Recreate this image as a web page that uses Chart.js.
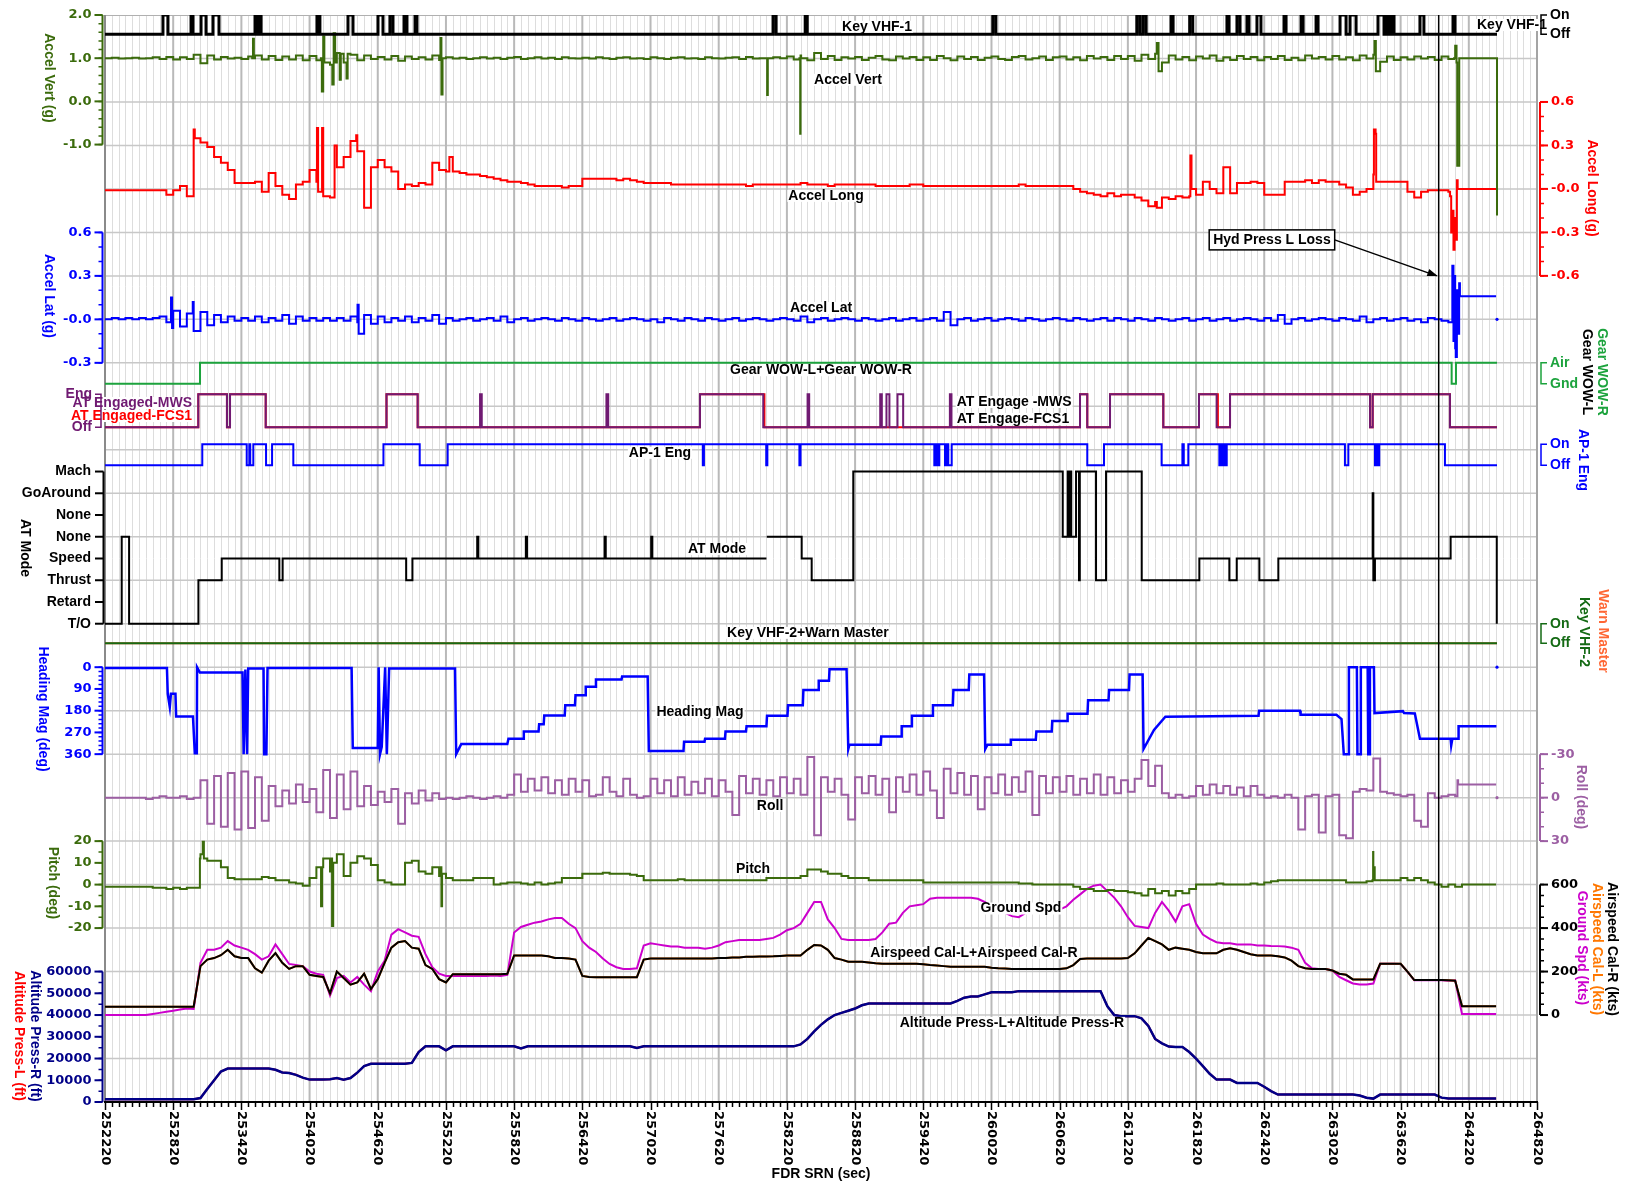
<!DOCTYPE html>
<html>
<head>
<meta charset="utf-8">
<script src="https://cdn.jsdelivr.net/npm/chart.js@4.4.1/dist/chart.umd.min.js"></script>
<style>
  html, body { margin: 0; padding: 0; background: #ffffff; }
  canvas { display: block; }
</style>
</head>
<body>
<canvas id="fdr" width="1625" height="1186"></canvas>
<script>
// ---------------------------------------------------------------------------
// Flight data recorder traces, FDR SRN (sec) on the horizontal axis.
// Continuous parameters are stored as samples every DT seconds from T0,
// with extra [time, value] points for short transients. Discrete parameters
// are stored as [time, state] change points.
// ---------------------------------------------------------------------------
const X_MIN = 252220;
const X_MAX = 264820;
const T0 = 252220;
const DT = 60;
const EVENT_T = 263955;

const xTickLabels = ['252220','252820','253420','254020','254620','255220','255820','256420',
  '257020','257620','258220','258820','259420','260020','260620','261220','261820','262420',
  '263020','263620','264220','264820'];

// Key VHF-1 (1 = On, 0 = Off)
const keyVhf1 = [[252220,0],[252730,1],[252774,0],[252977,1],[252994,0],[253065,1],[253109,0],
  [253170,1],[253223,0],[253540,1],[253557,0],[253575,1],[253593,0],[254085,1],[254111,0],
  [254358,1],[254402,0],[254622,1],[254666,0],[254727,1],[254754,0],[254851,1],[254877,0],
  [254948,1],[254965,0],[258098,1],[258125,0],[258381,1],[258399,0],[260032,1],[260059,0],
  [261299,1],[261326,0],[261354,1],[261381,0],[261600,1],[261618,0],[261764,1],[261791,0],
  [262092,1],[262110,0],[262180,1],[262207,0],[262268,1],[262286,0],[262356,1],[262391,0],
  [262594,1],[262612,0],[262744,1],[262762,0],[262876,1],[262893,0],[263087,1],[263140,0],
  [263175,1],[263228,0],[263421,1],[263474,0],[263500,1],[263518,0],[263544,1],[263562,0],
  [263790,1],[263825,0],[264081,1],[264099,0],[264468,0]];

// Accel Vert (g)
const accelVert = [
  1.00,1.01,0.99,1.00,1.01,0.99,1.00,1.02,0.98,1.03,
  0.97,1.02,0.98,1.08,0.88,1.06,0.97,1.03,0.99,1.01,
  0.98,1.04,1.06,0.97,1.05,0.96,1.04,0.97,1.06,0.95,
  1.05,0.95,1.10,0.85,1.12,0.90,1.08,0.95,1.06,0.98,
  1.03,0.97,1.05,0.94,1.04,0.98,1.02,0.97,1.06,0.96,
  1.02,0.99,1.01,0.98,1.00,1.02,0.99,1.01,0.98,1.01,
  1.03,0.98,1.00,1.02,0.99,1.01,0.98,1.02,1.00,0.99,
  1.01,0.99,1.02,1.00,0.98,1.01,1.02,0.99,1.00,0.98,
  1.02,1.00,0.98,1.01,1.02,0.99,1.00,0.98,1.02,1.00,
  0.99,1.01,1.02,0.98,1.03,0.99,1.00,0.98,1.02,1.00,
  1.04,0.97,1.06,0.95,1.12,0.98,1.05,0.96,1.02,0.99,
  1.03,0.96,1.01,1.05,0.97,0.95,1.04,0.99,1.03,0.96,
  1.02,0.96,1.05,1.00,0.95,1.04,0.98,1.03,0.96,1.01,
  1.04,0.98,0.96,1.03,1.05,0.97,1.00,1.04,0.96,1.02,
  1.04,0.97,1.02,0.95,1.05,0.99,1.03,0.96,1.05,0.98,
  1.05,0.94,1.08,0.98,1.10,0.90,1.06,0.97,1.03,0.95,
  1.04,0.99,1.06,0.94,1.02,0.96,1.05,0.98,1.03,0.95,
  1.03,0.98,1.05,0.96,1.01,0.95,1.06,0.99,1.03,0.97,
  1.05,0.97,1.02,0.95,1.06,0.99,1.08,0.92,1.04,0.96,
  1.02,0.97,1.04,0.99,1.03,0.96,1.04,0.98,1.02,1.00,
  1.00,1.00,1.00,1.00,1.00];
const accelVertPeaks = [[253515,1.00],[253522,1.45],[253530,1.00],
  [254120,1.00],[254128,0.23],[254140,1.50],[254150,0.90],[254220,0.39],[254232,1.58],
  [254245,0.90],[254285,0.50],[254295,1.10],[254345,0.53],[254355,1.10],
  [255165,1.00],[255172,1.47],[255180,0.16],[255190,1.00],
  [258040,1.00],[258046,0.15],[258052,1.00],[258330,1.00],[258337,-0.75],[258345,1.00],
  [261475,1.35],[261490,0.70],[263390,1.40],[263402,0.70],
  [264090,1.00],[264100,1.29],[264112,0.90],[264118,-1.49],[264130,-1.49],[264136,1.00],
  [264462,1.00],[264468,-2.64]];

// Accel Long (g)
const accelLong = [
  -0.01,-0.01,-0.01,-0.01,-0.01,-0.01,-0.01,-0.01,-0.01,-0.04,
  -0.01,0.02,-0.05,-0.03,0.32,0.29,0.22,0.18,0.13,0.04,
  0.04,0.04,0.05,-0.02,0.11,0.02,-0.04,-0.07,0.03,0.05,
  0.13,0.05,0.30,-0.06,0.15,0.22,0.33,0.26,-0.10,0.15,
  0.20,0.15,0.12,0.00,0.03,0.02,0.04,0.03,0.18,0.13,
  0.12,0.12,0.11,0.10,0.10,0.09,0.08,0.07,0.06,0.05,
  0.05,0.04,0.03,0.02,0.02,0.02,0.02,0.01,0.02,0.02,
  0.07,0.07,0.07,0.07,0.07,0.06,0.07,0.06,0.05,0.04,
  0.04,0.04,0.04,0.03,0.03,0.03,0.03,0.03,0.03,0.03,
  0.03,0.03,0.03,0.03,0.02,0.03,0.03,0.03,0.03,0.03,
  0.03,0.03,0.04,0.03,0.03,0.03,0.02,0.03,0.03,0.03,
  0.03,0.03,0.03,0.02,0.02,0.02,0.02,0.02,0.03,0.03,
  0.02,0.02,0.02,0.02,0.02,0.02,0.02,0.02,0.02,0.02,
  0.02,0.02,0.02,0.02,0.03,0.02,0.02,0.02,0.02,0.02,
  0.02,0.02,0.00,-0.02,-0.03,-0.04,-0.05,-0.03,-0.05,-0.04,
  -0.04,-0.06,-0.08,-0.12,-0.09,-0.06,-0.07,-0.05,-0.06,-0.05,
  -0.04,0.05,0.00,-0.03,0.15,-0.03,0.04,0.04,0.05,0.04,
  -0.04,-0.04,-0.04,0.05,0.05,0.05,0.06,0.04,0.06,0.05,
  0.05,0.03,0.01,-0.04,-0.02,0.00,0.05,0.05,0.05,0.05,
  0.05,-0.02,-0.06,-0.02,-0.01,-0.01,-0.01,-0.02,-0.20,0.00,
  0.00,0.00,0.00,0.00,0.00];
const accelLongPeaks = [[252996,-0.05],[253000,0.41],[253010,0.35],
  [254085,0.42],[254095,-0.02],[254130,0.42],[254140,-0.05],[254240,0.30],[254430,0.37],
  [254500,-0.13],[255250,0.22],[261475,-0.13],[261770,0.23],[261780,0.00],
  [263380,0.10],[263385,0.41],[263400,0.38],[263405,0.05],
  [264055,-0.05],[264065,-0.30],[264075,-0.15],[264085,-0.42],[264095,-0.25],
  [264105,-0.35],[264115,0.06],[264122,0.00]];

// Accel Lat (g)
const accelLat = [
  0.00,0.01,0.00,0.01,0.00,0.01,0.00,0.01,0.02,-0.02,
  0.06,-0.05,0.04,-0.04,0.05,-0.04,0.03,-0.02,0.02,-0.01,
  0.01,-0.01,0.02,-0.02,0.01,-0.01,0.03,-0.03,0.02,-0.01,
  0.01,-0.01,0.01,-0.01,0.01,-0.01,0.02,-0.02,0.03,-0.03,
  0.02,-0.02,0.01,-0.01,0.02,-0.02,0.01,-0.01,0.03,-0.03,
  0.01,-0.01,0.00,0.01,-0.01,0.00,0.01,-0.01,0.02,-0.02,
  0.00,0.01,-0.01,0.00,0.01,0.00,-0.01,0.01,0.00,-0.01,
  0.01,0.00,-0.01,0.00,0.01,-0.01,0.00,0.01,0.00,-0.01,
  0.00,-0.02,0.01,0.00,-0.01,0.01,0.00,-0.01,0.01,0.00,
  -0.01,0.00,0.01,-0.01,0.00,0.01,0.00,-0.01,0.00,0.01,
  0.00,-0.01,0.02,-0.02,0.00,0.01,-0.01,0.00,0.01,0.00,
  -0.01,0.01,0.00,-0.01,0.00,0.01,-0.01,0.00,0.01,-0.01,
  0.00,0.01,-0.01,0.05,-0.04,0.00,0.01,-0.01,0.00,0.01,
  -0.01,0.00,0.01,0.00,-0.01,0.01,0.00,-0.01,0.00,0.01,
  0.00,-0.01,0.01,0.00,-0.01,0.00,0.01,-0.01,0.01,0.00,
  -0.01,0.01,0.00,-0.01,0.01,0.00,-0.01,0.00,0.01,-0.01,
  0.00,0.01,-0.01,0.00,0.01,-0.01,0.00,0.01,0.00,-0.01,
  0.01,-0.01,0.03,-0.03,0.00,0.01,-0.01,0.00,0.01,0.00,
  -0.01,0.01,0.00,-0.01,0.02,-0.02,0.00,0.01,-0.01,0.00,
  0.01,-0.01,0.00,-0.02,0.01,0.00,-0.01,-0.02,-0.20,0.16,
  0.16,0.16,0.16,0.16,0.16];
const accelLatPeaks = [[252801,0.15],[252810,-0.06],[252992,0.12],[253000,-0.08],
  [254442,0.10],[254452,-0.10],[264060,-0.02],[264075,0.37],[264085,-0.15],[264095,0.30],
  [264105,-0.26],[264115,0.20],[264125,-0.10],[264135,0.25],[264142,0.16]];
const accelLatLast = [[264468,0.00]];

// Gear WOW-L / WOW-R (1 = Air, 0 = Gnd)
const gearWow = [[252220,0],[253056,1],[264069,0],[264107,1],[264468,1]];

// AT Engaged (1 = Eng, 0 = Off)
const atEngagedMws = [[252220,0],[253041,1],[253293,0],[253320,1],[253634,0],[254697,1],
  [254971,0],[255520,1],[255535,0],[256632,1],[256648,0],[257455,1],[258012,0],[258402,1],
  [258416,0],[259041,1],[259055,0],[259096,1],[259122,0],[259193,1],[259243,0],[259654,1],
  [259668,0],[260799,1],[260863,0],[261063,1],[261532,0],[261846,1],[262001,0],[262119,1],
  [263351,0],[263374,1],[264054,0],[264468,0]];
const atEngagedFcs1 = [[252220,0],[253041,1],[253293,0],[253320,1],[253634,0],[254697,1],
  [254971,0],[257455,1],[258022,0],[260799,1],[260863,0],[261063,1],[261532,0],[261846,1],
  [262012,0],[262119,1],[263351,0],[263374,1],[264054,0],[264468,0]];

// AP-1 Eng (1 = On, 0 = Off)
const ap1Eng = [[252220,0],[253076,1],[253467,0],[253490,1],[253498,0],[253525,1],[253637,0],
  [253690,1],[253877,0],[254670,1],[254989,0],[255235,1],[257480,0],[257490,1],[258038,0],
  [258048,1],[258330,0],[258340,1],[259517,0],[259530,1],[259545,0],[259561,1],[259611,0],
  [259625,1],[259640,0],[259670,1],[260863,0],[261010,1],[261517,0],[261700,1],[261712,0],
  [261752,1],[262025,0],[262040,1],[262050,0],[262065,1],[262075,0],[262090,1],[263130,0],
  [263160,1],[263394,0],[263405,1],[263420,0],[263432,1],[264010,0],[264468,0]];

// AT Mode (state index into atModeNames)
const atModeNames = ['T/O','Retard','Thrust','Speed','None','None','GoAround','Mach'];
const atMode = [[252220,0],[252367,4],[252432,0],[253042,2],[253247,3],[253754,2],[253783,3],
  [254870,2],[254925,3],[255495,4],[255505,3],[255923,4],[255933,3],[256616,4],[256626,3],
  [257026,4],[257036,3],[258040,3],[258041,null],[258043,4],[258350,3],[258438,2],[258804,7],
  [260647,4],[260691,7],[260700,4],[260712,7],[260722,4],[260764,7],[260790,2],[260797,7],
  [260940,2],[261028,7],[261342,2],[261849,3],[262113,2],[262178,3],[262377,2],[262544,3],
  [263374,6],[263380,2],[263394,3],[264060,4],[264466,0]];

// Key VHF-2 and Warn Master (1 = On, 0 = Off)
const keyVhf2 = [[252220,0],[264468,0]];
const warnMaster = [[252220,0],[264468,0]];

// Heading Mag (deg)
const headingMag = [[252220,3],[252765,3],[252772,110],[252790,165],[252800,110],[252840,110],
  [252846,204],[252994,204],[253010,356],[253028,356],[253030,0],[253055,22],[253430,22],
  [253440,360],[253455,10],[253470,360],[253480,5],[253615,5],[253620,360],[253640,360],
  [253650,3],[254390,3],[254400,335],[254620,335],[254628,0],[254640,360],[254655,330],
  [254685,0],[254700,360],[254720,5],[255300,5],[255310,360],[255355,318],[255760,318],
  [255770,296],[255900,296],[255905,266],[256035,266],[256040,236],[256080,236],[256085,200],
  [256265,200],[256270,158],[256355,158],[256360,116],[256445,116],[256450,81],[256535,81],
  [256540,51],[256765,51],[256770,39],[256995,39],[257005,347],[257310,347],[257315,309],
  [257495,309],[257500,296],[257675,296],[257680,266],[257860,266],[257865,244],[258040,244],
  [258045,201],[258225,201],[258230,158],[258360,158],[258365,94],[258495,94],[258500,56],
  [258590,56],[258595,9],[258745,9],[258760,339],[258770,321],[259045,321],[259050,287],
  [259225,287],[259230,244],[259315,244],[259320,201],[259500,201],[259505,158],[259680,158],
  [259685,94],[259820,94],[259825,30],[259955,30],[259965,339],[259985,321],[260185,321],
  [260190,300],[260410,300],[260415,266],[260550,266],[260555,223],[260685,223],[260690,193],
  [260865,193],[260870,137],[261050,137],[261055,94],[261230,94],[261235,30],[261350,30],
  [261358,339],[261450,260],[261550,205],[262370,201],[262375,180],[262735,180],[262740,197],
  [263055,197],[263100,215],[263120,360],[263160,360],[263165,0],[263235,0],[263240,360],
  [263265,360],[263270,0],[263330,0],[263335,360],[263345,360],[263350,0],[263385,0],
  [263390,190],[263640,182],[263650,190],[263745,192],[263790,296],[264060,296],[264065,324],
  [264075,296],[264125,296],[264130,244],[264463,244]];
const headingLast = [[264468,0]];

// Roll (deg)
const roll = [
  0,0,0,0,0,0,1,0,-1,0,
  0,-1,1,0,-12,18,-15,20,-17,22,
  -18,21,-14,16,-8,6,-5,4,-9,3,
  -6,10,-19,14,-16,8,-18,6,-8,5,
  -4,3,-6,18,-3,4,-5,2,-3,1,
  0,1,0,-1,0,1,0,-1,0,-2,
  -16,-4,-13,-5,-14,-3,-12,-2,-13,-4,
  -12,-1,-2,-14,-4,-1,-13,-2,0,-1,
  -13,-3,-12,-1,-14,-2,-11,-3,-13,-1,
  -12,-4,12,-15,-3,-13,-2,-12,-1,-14,
  -3,-13,-2,-28,26,-14,-4,-13,-2,15,
  -14,-3,-15,-2,-13,10,-14,-4,-16,-2,
  -18,-5,14,-20,-3,-17,-2,-15,8,-14,
  -3,-16,-2,-14,-4,-18,12,-15,-3,-14,
  -4,-15,-2,-13,-3,-16,-2,-14,-3,-12,
  -4,-13,-26,-8,-22,-3,0,-2,0,-1,
  -8,-2,-9,-3,-8,-2,-7,-1,-8,-2,
  0,-1,0,-2,0,22,-1,-2,24,-1,
  -2,26,28,-4,-6,-5,-27,-4,-3,-2,
  -1,-2,16,20,-3,0,-1,-2,-1,-9,
  -9,-9,-9,-9,-9];
const rollPeaks = [[264120,-12],[264126,-9]];
const rollLast = [[264468,0]];

// Pitch (deg)
const pitch = [
  -1,-1,-1,-1,-1,-1,-1,-1.5,-1.5,-2,
  -1.5,-2,-1.5,-1.5,14,11,11,8,3,2.5,
  2.5,2.5,2.5,3.5,3,2,2,1,0.5,-0.5,
  3,8,12,6,14,4,10,13,12,9,
  2,1,0,0,10,11,6,5,8,4,
  3,2,2,2,3,3,3,0,0.5,1,
  1,0.5,0,1,0,0.5,1,3,3,3,
  5,5,5,5.5,5,5,5,4.5,4,2,
  2,2,2,2,2.5,2,2,2,2,2,
  2,2,2,2,2,2,2,3,3,3,
  3,3,4,7,7,6,5,5,4,3,
  3,3,2,2,2,2,2,2,2,2,
  1,1,1,1,1,1,1,1,1,1,
  1,1,1,1,0.5,0.5,0,0,0,0,
  0,0,-1,-2,-2,-3,-3,-2.5,-3,-3,
  -3.5,-4,-5,-2,-4,-3,-5,-3,-4,-2,
  0,0,0,0.5,0,0,0,0,0.5,0,
  1,1.5,2,2,2,2,2,2,2,2,
  2,2,1,1,1,1.5,3,2,2,2,
  3,2,3,2,1,0,-1,0,-1,0,
  0,0,0,0,0];
const pitchPeaks = [[253045,-1.5],[253055,12],[253080,19.7],[253090,12],
  [254121,-10],[254130,8],[254210,12],[254218,-19],[254228,10],
  [255175,8],[255180,-10],[255186,5],[263372,2],[263378,15],[263385,8],[263392,2]];

// Ground Spd (kts)
const groundSpd = [
  0,0,0,0,0,0,0,5,10,15,
  20,25,30,28,240,300,300,310,340,320,
  310,300,280,255,270,325,280,235,230,225,
  200,190,185,90,170,180,150,175,140,110,
  200,250,370,395,380,365,360,280,220,190,
  180,180,180,180,180,180,180,182,180,185,
  380,405,415,425,430,440,446,446,420,400,
  340,310,290,260,235,220,212,212,215,320,
  330,325,320,315,315,310,310,310,305,310,
  320,335,340,345,345,345,345,350,355,370,
  390,400,420,470,520,520,440,400,350,345,
  345,345,345,350,380,420,425,470,500,505,
  510,535,540,540,540,540,540,540,535,520,
  500,490,470,455,450,470,475,475,475,480,
  485,500,530,555,580,595,600,570,540,500,
  450,410,405,400,470,520,480,430,500,510,
  420,370,350,335,330,330,325,325,325,320,
  320,318,317,315,310,300,240,215,212,212,
  205,175,160,145,140,140,145,236,236,236,
  235,200,160,160,160,160,160,158,160,5,
  5,5,5,5,5];

// Airspeed Cal-R (kts); Cal-L reads the same
const airspeedCalR = [
  38,38,38,38,38,38,38,38,38,38,
  38,38,38,38,225,255,262,275,300,270,
  262,262,215,195,250,285,240,212,225,225,
  185,180,175,100,200,170,140,150,190,120,
  165,240,310,335,340,310,305,230,212,165,
  150,188,188,188,188,188,188,188,188,190,
  274,274,274,274,274,270,262,262,260,255,
  180,175,174,174,174,174,174,174,174,255,
  260,260,260,260,260,260,260,260,260,260,
  262,262,265,265,268,268,269,269,270,272,
  274,274,274,300,322,320,300,262,255,245,
  245,245,242,238,236,236,236,236,236,236,
  234,230,228,225,222,222,222,222,222,222,
  218,215,214,212,212,212,212,212,212,212,
  212,215,230,258,260,260,260,260,260,260,
  262,284,320,355,340,325,300,310,305,300,
  290,284,284,284,300,307,300,290,280,274,
  274,274,270,265,250,225,215,212,212,212,
  205,190,185,164,164,164,164,236,236,236,
  236,200,161,161,161,161,161,160,158,41,
  41,41,41,41,41];
const airspeedCalL = airspeedCalR;

// Altitude Press-R (ft); Press-L reads the same
const altitudePressR = [
  1300,1300,1300,1300,1300,1300,1300,1300,1300,1300,
  1300,1300,1300,1300,1800,6000,10000,14000,15400,15400,
  15400,15400,15400,15400,15400,14800,13600,13300,12500,11200,
  10300,10300,10300,10500,11000,10200,11000,13500,16500,17600,
  17600,17600,17600,17600,17600,18000,23000,25600,25600,25600,
  23800,25600,25600,25600,25600,25600,25600,25600,25600,25600,
  25600,24600,25600,25600,25600,25600,25600,25600,25600,25600,
  25600,25600,25600,25600,25600,25600,25600,25600,24800,25600,
  25600,25600,25600,25600,25600,25600,25600,25600,25600,25600,
  25600,25600,25600,25600,25600,25600,25600,25600,25600,25600,
  25600,25600,26500,29000,32500,35500,38000,40000,41000,42000,
  43000,44500,45300,45300,45300,45300,45300,45300,45300,45300,
  45300,45300,45300,45300,45300,46500,48000,48500,48500,49500,
  50500,50500,50500,50500,51000,51000,51000,51000,51000,51000,
  51000,51000,51000,51000,51000,51000,51000,44000,40000,39500,
  39500,39500,38500,35000,29000,27000,25500,25300,25300,23000,
  19950,16500,13000,10300,10300,10300,8750,8750,8750,8750,
  7000,5000,3400,3400,3400,3400,3400,3400,3400,3400,
  3400,3400,3400,3400,3000,2000,1560,3400,3400,3400,
  3400,3400,3400,3400,3400,3400,2000,1560,1560,1560,
  1560,1560,1560,1560,1560];
const altitudePressL = altitudePressR;

// Axis tick labels: [value, text]
const accelVertTicks = [[2,'2.0'],[1,'1.0'],[0,'0.0'],[-1,'-1.0']];
const accelLatTicks = [[0.6,'0.6'],[0.3,'0.3'],[0,'-0.0'],[-0.3,'-0.3']];
const accelLongTicks = [[0.6,'0.6'],[0.3,'0.3'],[0,'-0.0'],[-0.3,'-0.3'],[-0.6,'-0.6']];
const headingTicks = [[0,'0'],[90,'90'],[180,'180'],[270,'270'],[360,'360']];
const rollTicks = [[-30,'-30'],[0,'0'],[30,'30']];
const pitchTicks = [[20,'20'],[10,'10'],[0,'0'],[-10,'-10'],[-20,'-20']];
const speedTicks = [[600,'600'],[400,'400'],[200,'200'],[0,'0']];
const altitudeTicks = [[60000,'60000'],[50000,'50000'],[40000,'40000'],[30000,'30000'],
  [20000,'20000'],[10000,'10000'],[0,'0']];

// ---------------------------------------------------------------------------
// Layout: the plot is split into 25 equal rows; each parameter's axis is
// pinned by giving the row at which two of its values sit.
// ---------------------------------------------------------------------------
const ROWS = 25;
const axisBands = {
  yKey1:  [1, 0, 0, 0.44],
  yVert:  [2, 0, -1, 2.98],
  yLong:  [0.6, 2, -0.6, 6],
  yLat:   [0.6, 5, -0.3, 8],
  yGear:  [1, 8, 0, 8.48],
  yAte:   [1, 8.724, 0, 9.483],
  yAp:    [1, 9.874, 0, 10.357],
  yAtm:   [7, 10.5, 0, 14],
  yKey2:  [1, 14, 0, 14.45],
  yHdg:   [0, 15, 360, 17],
  yRoll:  [-30, 17, 30, 19],
  yPitch: [20, 19, -20, 21],
  ySpd:   [600, 20, 0, 23],
  yAlt:   [60000, 22, 0, 25]
};

const COL = {
  vert: '#3b6b0c', long: '#ff0000', lat: '#0000ff', gear: '#1ca33d', ate: '#701a72',
  fcs: '#ff0000', ap: '#0000ff', atm: '#000000', key2: '#146a14', warn: '#ff6633',
  hdg: '#0000ff', roll: '#9c5fa3', pitch: '#3b6b0c', gs: '#cc00cc', asL: '#ff7700',
  asR: '#000000', altR: '#000088', altL: '#ff0000', key1: '#000000'
};

const NUM_FONT = 'bold 13px "DejaVu Sans", Verdana, sans-serif';
const TXT_FONT = 'bold 14px "Liberation Sans", Arial, sans-serif';

function bandScale(id) {
  const [v1, r1, v2, r2] = axisBands[id];
  const perRow = (v2 - v1) / (r2 - r1);
  const top = v1 - perRow * r1;
  const bottom = v1 + perRow * (ROWS - r1);
  return {
    type: 'linear', display: false, bounds: 'data', grace: 0,
    min: Math.min(top, bottom), max: Math.max(top, bottom), reverse: top < bottom
  };
}

function fromPairs(pairs) {
  return pairs.map(([x, y]) => ({ x, y }));
}
function fromSamples(values, extra) {
  const pts = values.map((v, i) => ({ x: T0 + DT * i, y: v }));
  (extra || []).forEach(([x, y]) => pts.push({ x, y }));
  pts.sort((a, b) => a.x - b.x);
  return pts;
}

function line(label, data, axis, color, order, extra) {
  return Object.assign({
    label, data, yAxisID: axis, xAxisID: 'x', borderColor: color, backgroundColor: color,
    borderWidth: 2, pointRadius: 0, tension: 0, fill: false, spanGaps: false, order
  }, extra || {});
}
const STEP = { stepped: true };
const DOT = { showLine: false, pointRadius: 1.6, pointBorderWidth: 0 };

const datasets = [
  line('Key VHF-1', fromPairs(keyVhf1), 'yKey1', COL.key1, 2, { stepped: true, borderWidth: 3 }),
  line('Accel Vert', fromSamples(accelVert, accelVertPeaks), 'yVert', COL.vert, 3, STEP),
  line('Accel Long', fromSamples(accelLong, accelLongPeaks), 'yLong', COL.long, 4, STEP),
  line('Accel Lat', fromSamples(accelLat, accelLatPeaks), 'yLat', COL.lat, 3, STEP),
  line('Accel Lat end', fromPairs(accelLatLast), 'yLat', COL.lat, 3, DOT),
  line('Gear WOW-R', fromPairs(gearWow), 'yGear', COL.gear, 3, STEP),
  line('AT Engaged-MWS', fromPairs(atEngagedMws), 'yAte', COL.ate, 3, STEP),
  line('AT Engaged-FCS1', fromPairs(atEngagedFcs1), 'yAte', COL.fcs, 6, STEP),
  line('AP-1 Eng', fromPairs(ap1Eng), 'yAp', COL.ap, 3, STEP),
  line('AT Mode', fromPairs(atMode), 'yAtm', COL.atm, 3, STEP),
  line('Key VHF-2', fromPairs(keyVhf2), 'yKey2', COL.key2, 3, STEP),
  line('Warn Master', fromPairs(warnMaster), 'yKey2', COL.warn, 6, STEP),
  line('Heading Mag', fromPairs(headingMag), 'yHdg', COL.hdg, 3, { borderWidth: 2.5 }),
  line('Heading Mag end', fromPairs(headingLast), 'yHdg', COL.hdg, 3, DOT),
  line('Roll', fromSamples(roll, rollPeaks), 'yRoll', COL.roll, 3, STEP),
  line('Roll end', fromPairs(rollLast), 'yRoll', COL.roll, 3, DOT),
  line('Pitch', fromSamples(pitch, pitchPeaks), 'yPitch', COL.pitch, 3, STEP),
  line('Ground Spd', fromSamples(groundSpd), 'ySpd', COL.gs, 6),
  line('Airspeed Cal-L', fromSamples(airspeedCalL), 'ySpd', COL.asL, 5),
  line('Airspeed Cal-R', fromSamples(airspeedCalR), 'ySpd', COL.asR, 4),
  line('Altitude Press-L', fromSamples(altitudePressL), 'yAlt', COL.altL, 6),
  line('Altitude Press-R', fromSamples(altitudePressR), 'yAlt', COL.altR, 4, { borderWidth: 2.5 })
];

const scales = { x: { type: 'linear', display: false, bounds: 'data', min: X_MIN, max: X_MAX } };
Object.keys(axisBands).forEach(id => { scales[id] = bandScale(id); });

// ---------------------------------------------------------------------------
// Drawing helpers for the frame, axis annotations and trace names.
// ---------------------------------------------------------------------------
function rowY(ca, r) { return ca.top + r * (ca.bottom - ca.top) / ROWS; }

function text(ctx, s, x, y, color, font, align, bg) {
  ctx.font = font;
  ctx.textAlign = align || 'center';
  ctx.textBaseline = 'middle';
  if (bg) {
    const w = ctx.measureText(s).width;
    const x0 = ctx.textAlign === 'center' ? x - w / 2 : (ctx.textAlign === 'right' ? x - w : x);
    ctx.fillStyle = '#ffffff';
    ctx.fillRect(x0 - 1, y - 6, w + 2, 12);
  }
  ctx.fillStyle = color;
  ctx.fillText(s, x, y);
}

function vtext(ctx, s, cx, cy, color) {
  ctx.save();
  ctx.translate(cx, cy);
  ctx.rotate(Math.PI / 2);
  ctx.font = TXT_FONT;
  ctx.textAlign = 'center';
  ctx.textBaseline = 'middle';
  ctx.fillStyle = color;
  ctx.fillText(s, 0, 0);
  ctx.restore();
}

// Numeric axes: side, scale id, ticks, minor step, colour
const valueAxes = [
  ['left', 'yVert', accelVertTicks, 0.2, COL.vert],
  ['left', 'yLat', accelLatTicks, 0.1, COL.lat],
  ['left', 'yHdg', headingTicks, 18, COL.hdg],
  ['left', 'yPitch', pitchTicks, 5, COL.pitch],
  ['left', 'yAlt', altitudeTicks, 5000, COL.altR],
  ['right', 'yLong', accelLongTicks, 0.1, COL.long],
  ['right', 'yRoll', rollTicks, 10, COL.roll],
  ['right', 'ySpd', speedTicks, 50, '#000000']
];

// Two-state axes: side, scale id, high label, low label, colour
const stateAxes = [
  ['right', 'yKey1', 'On', 'Off', '#000000'],
  ['left', 'yAte', 'Eng', 'Off', COL.ate],
  ['right', 'yGear', 'Air', 'Gnd', COL.gear],
  ['right', 'yAp', 'On', 'Off', COL.ap],
  ['right', 'yKey2', 'On', 'Off', COL.key2]
];

// Rotated axis titles: text, x, y, colour
const axisTitles = [
  ['Accel Vert (g)', 49, 78, COL.vert],
  ['Accel Lat (g)', 49, 296, COL.lat],
  ['AT Mode', 25, 548, '#000000'],
  ['Heading Mag (deg)', 43, 709, COL.hdg],
  ['Pitch (deg)', 53, 883, COL.pitch],
  ['Altitude Press-R (ft)', 35, 1036, COL.altR],
  ['Altitude Press-L (ft)', 19, 1036, COL.altL],
  ['Accel Long (g)', 1592, 188, COL.long],
  ['Gear WOW-R', 1602, 372, COL.gear],
  ['Gear WOW-L', 1587, 372, '#000000'],
  ['AP-1 Eng', 1583, 460, COL.ap],
  ['Warn Master', 1603, 631, COL.warn],
  ['Key VHF-2', 1584, 632, COL.key2],
  ['Roll (deg)', 1581, 797, COL.roll],
  ['Airspeed Cal-R (kts)', 1612, 949, '#000000'],
  ['Airspeed Cal-L (kts)', 1597, 949, COL.asL],
  ['Ground Spd (kts)', 1582, 948, COL.gs]
];

// Trace names inside the plot: text, time, row, alignment
const traceNames = [
  ['Key VHF-1', 259013, 0.27, 'center'],
  ['Key VHF-1', 264292, 0.23, 'left'],
  ['Accel Vert', 258757, 1.49, 'center'],
  ['Accel Long', 258564, 4.16, 'center'],
  ['Accel Lat', 258520, 6.74, 'center'],
  ['Gear WOW-L+Gear WOW-R', 258520, 8.17, 'center'],
  ['AT Engage -MWS', 259714, 8.90, 'left'],
  ['AT Engage-FCS1', 259714, 9.29, 'left'],
  ['AP-1 Eng', 257103, 10.07, 'center'],
  ['AT Mode', 257605, 12.28, 'center'],
  ['Key VHF-2+Warn Master', 258405, 14.21, 'center'],
  ['Heading Mag', 257455, 16.03, 'center'],
  ['Roll', 258072, 18.19, 'center'],
  ['Pitch', 257922, 19.64, 'center'],
  ['Ground Spd', 260279, 20.55, 'center'],
  ['Airspeed Cal-L+Airspeed Cal-R', 259866, 21.57, 'center'],
  ['Altitude Press-L+Altitude Press-R', 260200, 23.18, 'center']
];

const fdrFrame = {
  id: 'fdrFrame',
  beforeDatasetsDraw(chart) {
    const { ctx, chartArea: ca, scales: s } = chart;
    const xs = s.x;
    ctx.save();
    // minor time grid every 60 s
    ctx.lineWidth = 1;
    ctx.strokeStyle = '#dddddd';
    ctx.beginPath();
    for (let t = X_MIN + 60; t < X_MAX; t += 60) {
      if ((t - X_MIN) % 600 === 0) continue;
      const x = Math.round(xs.getPixelForValue(t)) + 0.5;
      ctx.moveTo(x, ca.top); ctx.lineTo(x, ca.bottom);
    }
    ctx.stroke();
    // row lines
    ctx.lineWidth = 1.5;
    ctx.strokeStyle = '#c8c8c8';
    ctx.beginPath();
    for (let r = 1; r < ROWS; r++) {
      const y = rowY(ca, r);
      ctx.moveTo(ca.left, y); ctx.lineTo(ca.right, y);
    }
    ctx.stroke();
    // major time grid every 600 s
    ctx.lineWidth = 2;
    ctx.strokeStyle = '#b9b9b9';
    ctx.beginPath();
    for (let t = X_MIN + 600; t < X_MAX; t += 600) {
      const x = xs.getPixelForValue(t);
      ctx.moveTo(x, ca.top); ctx.lineTo(x, ca.bottom);
    }
    ctx.stroke();
    // frame
    ctx.lineWidth = 1;
    ctx.strokeStyle = '#b0b0b0';
    ctx.beginPath(); ctx.moveTo(ca.left, ca.top + 0.5); ctx.lineTo(ca.right, ca.top + 0.5); ctx.stroke();
    ctx.lineWidth = 2;
    ctx.strokeStyle = '#8a8a8a';
    ctx.beginPath(); ctx.moveTo(ca.left, ca.top); ctx.lineTo(ca.left, ca.bottom); ctx.stroke();
    ctx.strokeStyle = '#a4a4a4';
    ctx.beginPath(); ctx.moveTo(ca.right, ca.top); ctx.lineTo(ca.right, ca.bottom); ctx.stroke();
    ctx.restore();
  },
  afterDatasetsDraw(chart) {
    const { ctx, chartArea: ca, scales: s } = chart;
    const xs = s.x;
    ctx.save();

    // event marker
    const ex = xs.getPixelForValue(EVENT_T);
    ctx.lineWidth = 1.5;
    ctx.strokeStyle = '#000000';
    ctx.beginPath(); ctx.moveTo(ex, ca.top); ctx.lineTo(ex, ca.bottom); ctx.stroke();

    // Hyd Press L Loss callout pointing at the event marker
    const tipY = s.yLong.getPixelForValue(-0.6);
    const note = 'Hyd Press L Loss';
    ctx.font = TXT_FONT;
    const nw = ctx.measureText(note).width + 8;
    const bx1 = ex - 104, by = tipY - 36;
    ctx.fillStyle = '#ffffff';
    ctx.fillRect(bx1 - nw, by - 10, nw, 20);
    ctx.lineWidth = 1.5;
    ctx.strokeStyle = '#000000';
    ctx.strokeRect(bx1 - nw, by - 10, nw, 20);
    text(ctx, note, bx1 - nw / 2, by, '#000000', TXT_FONT, 'center', false);
    ctx.beginPath(); ctx.moveTo(bx1, by); ctx.lineTo(ex - 2, tipY); ctx.stroke();
    const ang = Math.atan2(tipY - by, ex - 2 - bx1);
    ctx.beginPath();
    ctx.moveTo(ex - 1, tipY);
    ctx.lineTo(ex - 1 - 11 * Math.cos(ang - 0.35), tipY - 11 * Math.sin(ang - 0.35));
    ctx.lineTo(ex - 1 - 11 * Math.cos(ang + 0.35), tipY - 11 * Math.sin(ang + 0.35));
    ctx.closePath();
    ctx.fillStyle = '#000000';
    ctx.fill();

    // trace names
    traceNames.forEach(([s0, t, r, align]) => {
      text(ctx, s0, xs.getPixelForValue(t), rowY(ca, r), '#000000', TXT_FONT, align, true);
    });
    text(ctx, 'AT Engaged-MWS', 192, 403, COL.ate, TXT_FONT, 'right', true);
    text(ctx, 'AT Engaged-FCS1', 192, 416, COL.fcs, TXT_FONT, 'right', true);

    // numeric axes
    valueAxes.forEach(([side, id, ticks, minor, color]) => {
      const sc = s[id];
      const ax = side === 'left' ? ca.left - 2.5 : ca.right + 3;
      const dir = side === 'left' ? -1 : 1;
      const vals = ticks.map(t => t[0]);
      const vmin = Math.min(...vals), vmax = Math.max(...vals);
      ctx.strokeStyle = color;
      ctx.lineWidth = 2;
      ctx.beginPath();
      ctx.moveTo(ax, sc.getPixelForValue(vmax)); ctx.lineTo(ax, sc.getPixelForValue(vmin));
      ctx.stroke();
      ctx.lineWidth = 1.5;
      ctx.beginPath();
      const nMinor = Math.round((vmax - vmin) / minor);
      for (let i = 0; i <= nMinor; i++) {
        const y = sc.getPixelForValue(vmin + i * minor);
        ctx.moveTo(ax, y); ctx.lineTo(ax + dir * 4, y);
      }
      ctx.stroke();
      ctx.lineWidth = 2;
      ticks.forEach(([v, lab]) => {
        const y = sc.getPixelForValue(v);
        ctx.beginPath(); ctx.moveTo(ax, y); ctx.lineTo(ax + dir * 8, y); ctx.stroke();
        text(ctx, lab, ax + dir * 11, y, color, NUM_FONT, side === 'left' ? 'right' : 'left', false);
      });
    });

    // AT Mode state axis
    const am = s.yAtm;
    ctx.strokeStyle = '#000000';
    ctx.lineWidth = 2;
    ctx.beginPath();
    ctx.moveTo(ca.left - 1.5, am.getPixelForValue(7)); ctx.lineTo(ca.left - 1.5, am.getPixelForValue(0));
    ctx.stroke();
    atModeNames.forEach((name, v) => {
      const y = am.getPixelForValue(v);
      ctx.beginPath(); ctx.moveTo(ca.left - 1.5, y); ctx.lineTo(ca.left - 10, y); ctx.stroke();
      text(ctx, name, ca.left - 14, y, '#000000', TXT_FONT, 'right', false);
    });

    // two-state brackets
    stateAxes.forEach(([side, id, hi, lo, color]) => {
      const sc = s[id];
      const y1 = sc.getPixelForValue(1), y0 = sc.getPixelForValue(0);
      const ax = side === 'left' ? ca.left - 4 : ca.right + 4;
      const dir = side === 'left' ? -1 : 1;
      ctx.strokeStyle = color;
      ctx.lineWidth = 1.5;
      ctx.beginPath();
      ctx.moveTo(ax + dir * 6, y1); ctx.lineTo(ax, y1); ctx.lineTo(ax, y0); ctx.lineTo(ax + dir * 6, y0);
      ctx.stroke();
      const align = side === 'left' ? 'right' : 'left';
      text(ctx, hi, ax + dir * 9, y1, color, TXT_FONT, align, false);
      text(ctx, lo, ax + dir * 9, y0, color, TXT_FONT, align, false);
    });

    // axis titles
    axisTitles.forEach(([s0, x, y, color]) => vtext(ctx, s0, x, y, color));

    // time axis
    ctx.strokeStyle = '#000000';
    ctx.lineWidth = 2;
    ctx.beginPath(); ctx.moveTo(ca.left - 1, ca.bottom); ctx.lineTo(ca.right + 1, ca.bottom); ctx.stroke();
    ctx.lineWidth = 1.5;
    ctx.beginPath();
    for (let t = X_MIN; t <= X_MAX; t += 60) {
      const x = Math.round(xs.getPixelForValue(t)) + 0.5;
      const len = (t - X_MIN) % 600 === 0 ? 8 : 5;
      ctx.moveTo(x, ca.bottom); ctx.lineTo(x, ca.bottom + len);
    }
    ctx.stroke();
    xTickLabels.forEach((lab, i) => {
      const x = xs.getPixelForValue(X_MIN + 600 * i);
      ctx.save();
      ctx.translate(x, ca.bottom + 9);
      ctx.rotate(Math.PI / 2);
      ctx.font = NUM_FONT;
      ctx.textAlign = 'left';
      ctx.textBaseline = 'middle';
      ctx.fillStyle = '#000000';
      ctx.fillText(lab, 0, 0);
      ctx.restore();
    });
    text(ctx, 'FDR SRN (sec)', (ca.left + ca.right) / 2, 1174, '#000000', TXT_FONT, 'center', false);

    ctx.restore();
  }
};

new Chart(document.getElementById('fdr').getContext('2d'), {
  type: 'line',
  data: { datasets },
  options: {
    responsive: false,
    devicePixelRatio: 1,
    animation: false,
    events: [],
    parsing: true,
    layout: { padding: { left: 105, top: 15, right: 88, bottom: 84 } },
    scales,
    plugins: { legend: { display: false }, tooltip: { enabled: false } }
  },
  plugins: [fdrFrame]
});
</script>
</body>
</html>
